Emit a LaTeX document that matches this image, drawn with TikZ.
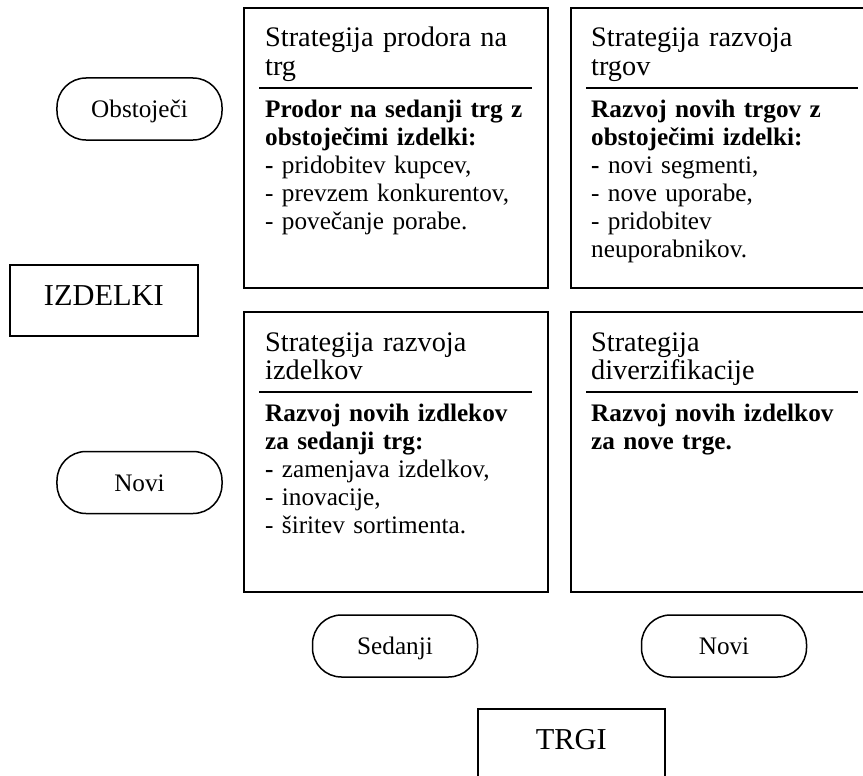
\documentclass[tikz,border=0pt]{standalone}
\usepackage{fontspec}
\setmainfont{Liberation Serif}
\usetikzlibrary{calc}
\begin{document}
\begin{tikzpicture}[x=1bp,y=-1bp,
  cell/.style={draw, line width=1.6bp, anchor=north west, minimum width=304bp,
    minimum height=280bp, inner sep=0pt},
  widecell/.style={cell, minimum width=320bp},
  pill/.style={draw, line width=1.5bp, rounded corners=29bp, minimum width=165bp,
    minimum height=62bp, inner sep=0pt, font=\fontsize{25.3}{28}\selectfont,
    text height=17.5bp, text depth=0bp},
  axisbox/.style={draw, line width=1.6bp, anchor=north west, minimum width=188bp,
    minimum height=71bp, inner sep=0pt, font=\fontsize{30.5}{32}\selectfont,
    text height=11bp, text depth=0bp},
  ttl/.style={anchor=base west, inner sep=0pt, text width=295bp, align=left,
    font=\fontsize{28.4}{28.2}\selectfont},
  txt/.style={anchor=base west, inner sep=0pt, text width=295bp, align=left,
    font=\fontsize{25.3}{28.2}\selectfont},
  rule/.style={line width=1.6bp}
]
\clip (0,0) rectangle (863,776);

% the four strategy cells
\node[cell]     (tl) at (243,7)   {};
\node[widecell] (tr) at (570,7)   {};
\node[cell]     (bl) at (243,311) {};
\node[widecell] (br) at (570,311) {};

% headings
\node[ttl] (tlh) at ($(tl.north west)+(22,40)$) {Strategija prodora na\\trg};
\node[ttl] (trh) at ($(tr.north west)+(21,40)$) {Strategija razvoja\\trgov};
\node[ttl] (blh) at ($(bl.north west)+(22,40)$) {Strategija razvoja\\izdelkov};
\node[ttl] (brh) at ($(br.north west)+(21,40)$) {Strategija\\diverzifikacije};

% heading rules
\draw[rule] ($(tl.north west)+(16,81)$) -- ($(tl.north west)+(289,81)$);
\draw[rule] ($(tr.north west)+(16,81)$) -- ($(tr.north west)+(288,81)$);
\draw[rule] ($(bl.north west)+(16,81)$) -- ($(bl.north west)+(289,81)$);
\draw[rule] ($(br.north west)+(16,81)$) -- ($(br.north west)+(288,81)$);

% cell texts
\node[txt] (tlt) at ($(tl.north west)+(22,110)$)
  {\textbf{Prodor na sedanji trg z}\\\textbf{obstoječimi izdelki:}\\
   \textbf{-} pridobitev kupcev,\\- prevzem konkurentov,\\- povečanje porabe.};
\node[txt] (trt) at ($(tr.north west)+(21,110)$)
  {\textbf{Razvoj novih trgov z}\\\textbf{obstoječimi izdelki:}\\
   \textbf{-} novi segmenti,\\- nove uporabe,\\- pridobitev\\neuporabnikov.};
\node[txt] (blt) at ($(bl.north west)+(22,110)$)
  {\textbf{Razvoj novih izdlekov}\\\textbf{za sedanji trg:}\\
   \textbf{-} zamenjava izdelkov,\\- inovacije,\\- širitev sortimenta.};
\node[txt] (brt) at ($(br.north west)+(21,110)$)
  {\textbf{Razvoj novih izdelkov}\\\textbf{za nove trge.}};

% product axis
\node[pill] (obst) at (139.5,109) {Obstoječi};
\node[axisbox] (izd) at (9,264) {IZDELKI};
\node[pill] (novi1) at (139.5,482.5) {Novi};

% market axis
\node[pill] (sed) at (395,646) {Sedanji};
\node[pill] (novi2) at (724,646) {Novi};
\node[axisbox, minimum width=187bp] (trgi) at (477,708) {TRGI};
\end{tikzpicture}
\end{document}
